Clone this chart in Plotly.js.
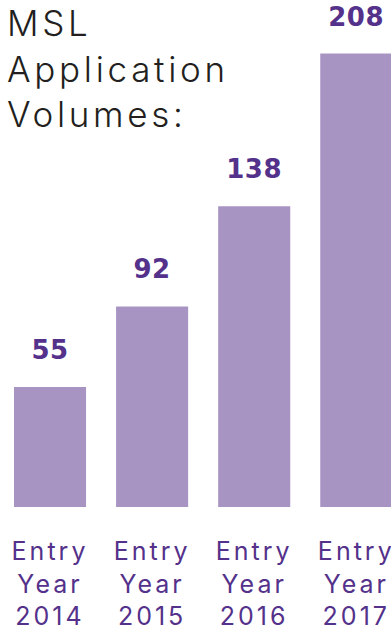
<!DOCTYPE html>
<html>
<head>
<meta charset="utf-8">
<script src="https://cdn.plot.ly/plotly-3.0.1.min.js"></script>
<style>
html,body{margin:0;padding:0;background:#fff;}
#chart{width:391px;height:631px;}
#chart .xtick text{letter-spacing:3px;}
#chart .annotation-text{letter-spacing:0.5px;}
#chart .title-ann .annotation-text{letter-spacing:3.7px;}
</style>
</head>
<body>
<div id="chart"></div>
<script>
const categories = ["Entry<br>Year<br>2014", "Entry<br>Year<br>2015", "Entry<br>Year<br>2016", "Entry<br>Year<br>2017"];
const volumes = [55, 92, 138, 208];
const valueLabels = ["55", "92", "138", "208"];
const chartTitle = "MSL<br>Application<br>Volumes:";

const barColor = "#a894c3";
const labelColor = "#54318a";

const annotations = categories.map((c, i) => ({
  x: c, y: volumes[i], xref: "x", yref: "y",
  text: "<b>" + valueLabels[i] + "</b>",
  showarrow: false, yanchor: "bottom", yshift: 20,
  font: {family: "DejaVu Sans", size: 26, color: labelColor, weight: 700}
}));
annotations.push({
  xref: "paper", yref: "paper", x: 0, y: 1, xanchor: "left", yanchor: "top",
  xshift: 5, yshift: 0, align: "left",
  text: chartTitle, showarrow: false,
  font: {family: "Inter", size: 35, color: "#231f20", weight: 300}
});

const data = [{
  type: "bar",
  x: categories,
  y: volumes,
  marker: {color: barColor},
  hoverinfo: "none"
}];

const layout = {
  width: 391, height: 631,
  margin: {l: 0, r: 0, t: 0, b: 124},
  paper_bgcolor: "#fff", plot_bgcolor: "#fff",
  showlegend: false,
  bargap: 0.294,
  xaxis: {
    type: "category",
    range: [-0.49, 3.34],
    showgrid: false, zeroline: false, showline: false,
    ticks: "outside", ticklen: 22, tickcolor: "rgba(0,0,0,0)",
    tickfont: {family: "Inter", size: 25, color: labelColor},
    fixedrange: true
  },
  yaxis: {
    range: [0, 232.6],
    visible: false, showgrid: false, zeroline: false,
    fixedrange: true
  },
  annotations: annotations
};

Plotly.newPlot("chart", data, layout, {displayModeBar: false, staticPlot: true}).then(() => {
  const anns = document.querySelectorAll("#chart .annotation");
  if (anns.length) anns[anns.length - 1].classList.add("title-ann");
});
</script>
</body>
</html>
